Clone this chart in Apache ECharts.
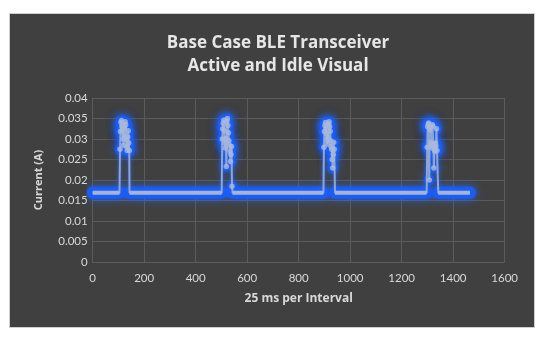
<!DOCTYPE html>
<html>
<head>
<meta charset="utf-8">
<script src="https://cdn.jsdelivr.net/npm/echarts@6/dist/echarts.min.js"></script>
<style>
html,body{margin:0;padding:0;background:#fff;}
#c{width:550px;height:337px;}
</style>
</head>
<body>
<div id="c"></div>
<script>
// ---- data ----
const titleLines = ['Base Case BLE Transceiver', 'Active and Idle Visual'];
const xName = '25 ms per Interval';
const yName = 'Current (A)';
const idleLevel = 0.0169;
const idleStart = [0, 143, 543, 941, 1342];
const idleEnd   = [104, 501, 896, 1297, 1465];
const burst1 = [[104,0.0169],[106,0.0275],[108,0.0318],[110,0.0340],[112,0.0345],[114,0.0331],[116,0.0322],[118,0.0300],[120,0.0285],[122,0.0310],[124,0.0326],[126,0.0342],[128,0.0335],[130,0.0298],[132,0.0281],[134,0.0272],[136,0.0305],[138,0.0320],[140,0.0290],[142,0.0272],[143,0.0169]];
const burst2 = [[501,0.0169],[503,0.0300],[505,0.0325],[507,0.0338],[509,0.0346],[511,0.0320],[513,0.0290],[515,0.0278],[517,0.0302],[519,0.0233],[521,0.0343],[523,0.0350],[525,0.0333],[527,0.0315],[529,0.0296],[531,0.0285],[533,0.0270],[535,0.0245],[537,0.0262],[539,0.0282],[541,0.0185],[543,0.0169]];
const burst3 = [[896,0.0169],[898,0.0280],[900,0.0318],[902,0.0333],[904,0.0340],[906,0.0326],[908,0.0312],[910,0.0298],[912,0.0288],[914,0.0305],[916,0.0336],[918,0.0342],[920,0.0330],[922,0.0319],[924,0.0296],[926,0.0282],[928,0.0275],[930,0.0250],[932,0.0229],[934,0.0262],[936,0.0292],[938,0.0275],[941,0.0169]];
const burst4 = [[1297,0.0169],[1299,0.0280],[1301,0.0330],[1303,0.0336],[1305,0.0339],[1307,0.0200],[1309,0.0328],[1311,0.0322],[1313,0.0292],[1315,0.0285],[1317,0.0278],[1319,0.0335],[1321,0.0331],[1323,0.0288],[1325,0.0229],[1327,0.0275],[1329,0.0270],[1331,0.0290],[1333,0.0283],[1335,0.0325],[1337,0.0272],[1342,0.0169]];
const xTicks = {min:0, max:1600, interval:200};
const yTicks = {min:0, max:0.04, interval:0.005};

// ---- build series data ----
const bursts = [burst1, burst2, burst3, burst4];
const idleData = [];
for (let i = 0; i < idleStart.length; i++) {
  idleData.push([idleStart[i], idleLevel], [idleEnd[i], idleLevel]);
  if (i < idleStart.length - 1) idleData.push([null, null]);
}
const allData = [];
for (let i = 0; i < idleStart.length; i++) {
  allData.push([idleStart[i], idleLevel], [idleEnd[i], idleLevel]);
  if (i < bursts.length) bursts[i].forEach(p => allData.push(p));
}
const burstPts = [];
bursts.forEach(b => b.slice(1, -1).forEach(p => burstPts.push(p)));

const chart = echarts.init(document.getElementById('c'), null, {renderer:'canvas'});
const txt = '#d9d9d9';
const grid = '#5b5b5b';
chart.setOption({
  backgroundColor: '#ffffff',
  animation: false,
  graphic: [{
    type: 'rect', z: -10, silent: true,
    shape: {x: 9.5, y: 13.5, width: 525, height: 314},
    style: {fill: '#404040', stroke: '#cfcfcf', lineWidth: 1}
  }],
  title: {
    text: titleLines.join('\n'),
    left: 273, top: 27, textAlign: 'center',
    textStyle: {color: '#e6e6e6', fontFamily: 'Open Sans', fontWeight: 'bold', fontSize: 17, lineHeight: 23}
  },
  grid: {left: 92.7, right: 45.3, top: 98, bottom: 75},
  xAxis: {
    type: 'value', min: xTicks.min, max: xTicks.max, interval: xTicks.interval,
    name: xName, nameLocation: 'middle', nameGap: 31,
    nameTextStyle: {color: txt, fontFamily: 'Open Sans', fontWeight: 'bold', fontSize: 12},
    axisLine: {show: true, lineStyle: {color: grid}},
    axisTick: {show: false},
    splitLine: {show: true, lineStyle: {color: grid, width: 1}},
    axisLabel: {color: txt, fontFamily: 'Lato', fontSize: 11.5, margin: 10, formatter: v => String(v)}
  },
  yAxis: {
    type: 'value', min: yTicks.min, max: yTicks.max, interval: yTicks.interval,
    name: yName, nameLocation: 'middle', nameGap: 48,
    nameTextStyle: {color: txt, fontFamily: 'Open Sans', fontWeight: 'bold', fontSize: 11},
    axisLine: {show: true, lineStyle: {color: grid}},
    axisTick: {show: false},
    splitLine: {show: true, lineStyle: {color: grid, width: 1}},
    axisLabel: {color: txt, fontFamily: 'Lato', fontSize: 11.5, margin: 5, formatter: v => String(+v.toFixed(3))}
  },
  series: [
    {
      type: 'line', data: idleData, connectNulls: false, showSymbol: false, z: 2,
      lineStyle: {color: '#1d5cf3', width: 12, cap: 'round', shadowBlur: 8, shadowColor: '#2468ff'}
    },
    {
      type: 'scatter', data: burstPts, symbolSize: 11, z: 3,
      itemStyle: {color: '#1d5cf3', shadowBlur: 10, shadowColor: '#2468ff'}
    },
    {
      type: 'line', data: allData, showSymbol: false, z: 4,
      lineStyle: {color: '#8ea5d9', width: 2, shadowBlur: 4, shadowColor: '#2468ff'}
    },
    {
      type: 'line', data: idleData, connectNulls: false, showSymbol: false, z: 5,
      lineStyle: {color: '#a2b4dc', width: 4}
    },
    {
      type: 'scatter', data: burstPts, symbolSize: 5.5, z: 6,
      itemStyle: {color: '#a9b9de'}
    }
  ]
});
</script>
</body>
</html>
